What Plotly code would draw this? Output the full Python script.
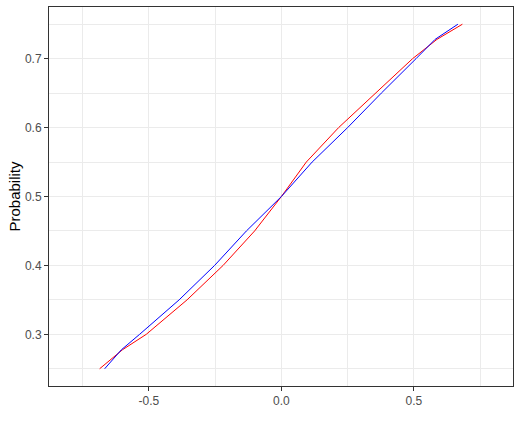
import plotly.graph_objects as go

# values
red_x = [-0.686, -0.600, -0.510, -0.356, -0.220, -0.101, 0.0, 0.094, 0.216, 0.354, 0.495, 0.587, 0.683]
red_y = [0.250, 0.2775, 0.300, 0.350, 0.400, 0.450, 0.500, 0.550, 0.600, 0.650, 0.700, 0.728, 0.750]

blue_x = [-0.667, -0.604, -0.535, -0.386, -0.252, -0.132, 0.0, 0.116, 0.250, 0.377, 0.508, 0.580, 0.666]
blue_y = [0.250, 0.2775, 0.300, 0.350, 0.400, 0.450, 0.500, 0.550, 0.600, 0.650, 0.700, 0.728, 0.750]

x_ticks = [-0.5, 0.0, 0.5]
x_tick_labels = ['-0.5', '0.0', '0.5']
y_ticks = [0.3, 0.4, 0.5, 0.6, 0.7]
y_tick_labels = ['0.3', '0.4', '0.5', '0.6', '0.7']

fig = go.Figure()
fig.add_trace(go.Scatter(x=red_x, y=red_y, mode='lines',
                         line=dict(color='red', width=1), showlegend=False))
fig.add_trace(go.Scatter(x=blue_x, y=blue_y, mode='lines',
                         line=dict(color='blue', width=1), showlegend=False))

axis_style = dict(
    showline=True, mirror=True, linecolor='#333333', linewidth=1,
    ticks='outside', ticklen=4, tickcolor='#333333', tickwidth=1,
    gridcolor='#EBEBEB', gridwidth=1, zeroline=False, automargin=False,
    tickfont=dict(family='Liberation Sans, Arial', size=12, color='#4D4D4D'),
)

fig.update_xaxes(range=[-0.877, 0.874], tickvals=x_ticks, ticktext=x_tick_labels,
                 minor=dict(dtick=0.25, tick0=0, showgrid=True, gridcolor='#EBEBEB',
                            gridwidth=0.6, ticks=''),
                 **axis_style)
fig.update_yaxes(range=[0.225, 0.775], tickvals=y_ticks, ticktext=y_tick_labels,
                 minor=dict(dtick=0.05, tick0=0, showgrid=True, gridcolor='#EBEBEB',
                            gridwidth=0.6, ticks=''),
                 title=dict(text='Probability', standoff=0,
                            font=dict(family='Liberation Sans, Arial', size=15, color='black')),
                 **axis_style)

fig.update_layout(
    width=521, height=431,
    margin=dict(l=49, r=8, t=7, b=45),
    plot_bgcolor='white', paper_bgcolor='white',
    font=dict(family='Liberation Sans, Arial'),
)

# drop the default 8px page margin so the figure sits at the window corner
fig.write_html("out.html", config={'displayModeBar': False},
               post_script="document.body.style.margin = '0';")
